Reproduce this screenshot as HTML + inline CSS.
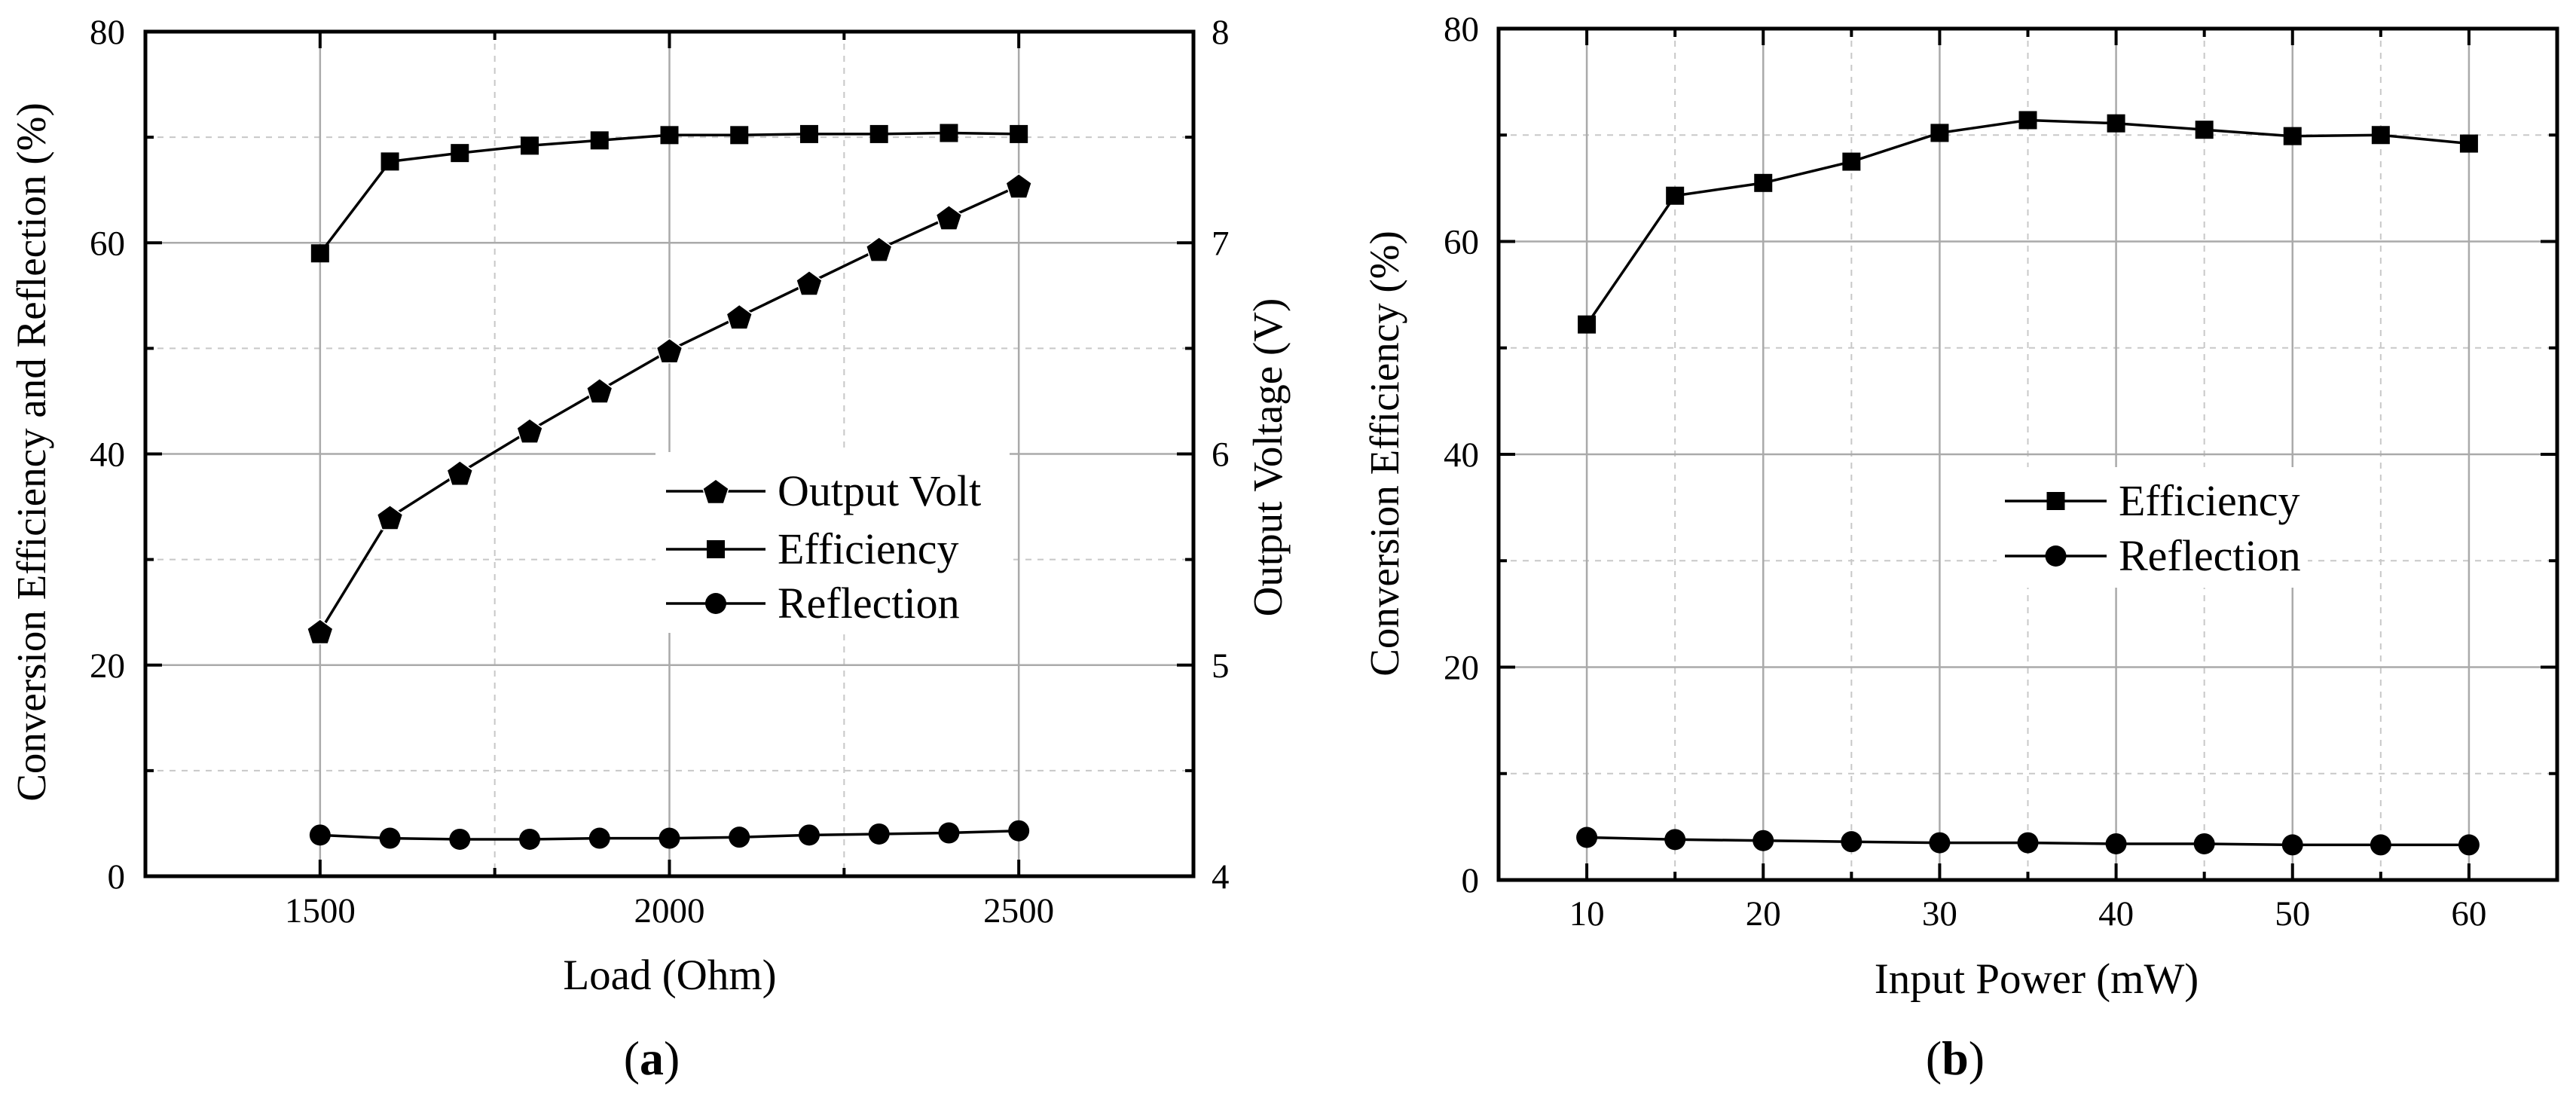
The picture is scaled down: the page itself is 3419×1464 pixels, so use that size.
<!DOCTYPE html>
<html><head><meta charset="utf-8">
<style>
html,body{margin:0;padding:0;background:#fff;}
svg{display:block;font-family:"Liberation Serif","Times New Roman",serif;}
</style></head>
<body>
<svg id="fig" width="3419" height="1464" viewBox="0 0 3419 1464" xmlns="http://www.w3.org/2000/svg">
<rect x="0" y="0" width="3419" height="1464" fill="#fff"/>
<g id="pa"></g>
<g id="pb"></g>
</svg>
<script>
// Panel (a) data
const loadA = [1500,1600,1700,1800,1900,2000,2100,2200,2300,2400,2500];
const voltA = [5.16,5.70,5.91,6.11,6.30,6.49,6.65,6.81,6.97,7.12,7.27];
const effA = [59.0,67.7,68.5,69.2,69.7,70.2,70.2,70.3,70.3,70.4,70.3];
const reflA = [3.9,3.6,3.5,3.5,3.6,3.6,3.7,3.9,4.0,4.1,4.3];
const xTicksA = [1500,2000,2500];
const yTicksA = [0,20,40,60,80];
const y2TicksA = [4,5,6,7,8];
// Panel (b) data
const powerB = [10,15,20,25,30,35,40,45,50,55,60];
const effB = [52.2,64.3,65.5,67.5,70.2,71.4,71.1,70.5,69.9,70.0,69.2];
const reflB = [4.0,3.8,3.7,3.6,3.5,3.5,3.4,3.4,3.3,3.3,3.3];
const xTicksB = [10,20,30,40,50,60];
const yTicksB = [0,20,40,60,80];

const NS='http://www.w3.org/2000/svg';
function mk(parent,tag,attrs,text){const e=document.createElementNS(NS,tag);for(const k in attrs)e.setAttribute(k,attrs[k]);if(text!==undefined)e.textContent=text;parent.appendChild(e);return e;}
function scale(d0,d1,r0,r1){return v=>r0+(v-d0)*(r1-r0)/(d1-d0);}

function grid(g,X,Y,xMaj,xMin,yMaj,yMin,L,R,T,B){
  xMin.forEach(v=>{const l=mk(g,'line',{x1:X(v),x2:X(v),y1:T,y2:B,stroke:'#c8c8c8','stroke-width':2,'stroke-dasharray':'8,8'});});
  yMin.forEach(v=>{const l=mk(g,'line',{x1:L,x2:R,y1:Y(v),y2:Y(v),stroke:'#c8c8c8','stroke-width':2,'stroke-dasharray':'8,8'});});
  xMaj.forEach(v=>{const l=mk(g,'line',{x1:X(v),x2:X(v),y1:T,y2:B,stroke:'#aaa','stroke-width':2.5});});
  yMaj.forEach(v=>{const l=mk(g,'line',{x1:L,x2:R,y1:Y(v),y2:Y(v),stroke:'#aaa','stroke-width':2.5});});
}
function frameTicks(g,X,Y,xMaj,xMin,yMaj,yMin,L,R,T,B,rightTicks){
  const tk=(x1,y1,x2,y2)=>{const l=mk(g,'line',{x1,y1,x2,y2,stroke:'#000','stroke-width':4});};
  xMaj.forEach(v=>{tk(X(v),B,X(v),B-22);tk(X(v),T,X(v),T+22);});
  xMin.forEach(v=>{tk(X(v),B,X(v),B-11);tk(X(v),T,X(v),T+11);});
  yMaj.forEach(v=>{tk(L,Y(v),L+22,Y(v));tk(R,Y(v),R-22,Y(v));});
  yMin.forEach(v=>{tk(L,Y(v),L+11,Y(v));tk(R,Y(v),R-11,Y(v));});
  const f=mk(g,'rect',{x:L,y:T,width:R-L,height:B-T,fill:'none',stroke:'#000','stroke-width':5});
  
}
function pentPts(cx,cy,r){let p=[];for(let i=0;i<5;i++){const a=-Math.PI/2+i*2*Math.PI/5;p.push((cx+r*Math.cos(a)).toFixed(1)+','+(cy+r*Math.sin(a)+2).toFixed(1));}return p.join(' ');}
function marker(g,type,cx,cy,name){
  let m;
  if(type==='sq') m=mk(g,'rect',{x:cx-12,y:cy-12,width:24,height:24,fill:'#000'});
  else if(type==='ci') m=mk(g,'ellipse',{cx,cy,rx:14,ry:14,fill:'#000'});
  else m=mk(g,'polygon',{points:pentPts(cx,cy,17),fill:'#000',stroke:'#fff','stroke-width':3,'paint-order':'stroke'});
  
  
}
function series(g,xs,ys,X,Y,type,name){
  const pts=xs.map((x,i)=>X(x).toFixed(1)+','+Y(ys[i]).toFixed(1)).join(' ');
  const pl=mk(g,'polyline',{points:pts,fill:'none',stroke:'#000','stroke-width':3.5});
  
  xs.forEach((x,i)=>marker(g,type,X(x),Y(ys[i]),name+'-point'));
}
function text(g,x,y,s,size,anchor,name,extra){
  const t=mk(g,'text',Object.assign({x,y,'font-size':size,'text-anchor':anchor||'middle',fill:'#000'},extra||{}),s);
  return t;
}
function legend(g,x,y,w,h,items){
  const box=mk(g,'rect',{x,y,width:w,height:h,fill:'#fff'});
  
  items.forEach(it=>{
    const l=mk(g,'line',{x1:it.x1,x2:it.x2,y1:it.y,y2:it.y,stroke:'#000','stroke-width':3.5});
    
    marker(g,it.type,(it.x1+it.x2)/2,it.y,'legend-marker');
    text(g,it.x2+16,it.y+19,it.label,58,'start','legend-entry');
  });
}

// ---------- Panel A ----------
(function(){
  const g=document.getElementById('pa');
  const L=193,R=1584,T=42,B=1163;
  const X=scale(1250,2750,L,R), Y=scale(0,80,B,T), Y2=scale(4,8,B,T);
  const xMin=[1250,1750,2250,2750], yMin=[10,30,50,70];
  grid(g,X,Y,xTicksA,[1750,2250],yTicksA.slice(1,4),yMin,L,R,T,B);
  legend(g,870,600,470,240,[
    {x1:884,x2:1016,y:652,type:'pe',label:'Output Volt'},
    {x1:884,x2:1016,y:729,type:'sq',label:'Efficiency'},
    {x1:884,x2:1016,y:801,type:'ci',label:'Reflection'}]);
  series(g,loadA,reflA,X,Y,'ci','reflection-a');
  series(g,loadA,effA,X,Y,'sq','efficiency-a');
  series(g,loadA,voltA,X,Y2,'pe','output-volt-a');
  frameTicks(g,X,Y,xTicksA,xMin,yTicksA,yMin,L,R,T,B);
  xTicksA.forEach(v=>text(g,X(v),1224,String(v),47,'middle','x-tick-label'));
  yTicksA.forEach(v=>text(g,166,Y(v)+16,String(v),47,'end','y-tick-label'));
  y2TicksA.forEach(v=>text(g,1608,Y2(v)+16,String(v),47,'start','y2-tick-label'));
  text(g,889,1313,'Load (Ohm)',57,'middle','x-axis-title');
  text(g,0,0,'Conversion Efficiency and Reflection (%)',55,'middle','y-axis-title',{transform:'translate(60,600) rotate(-90)'});
  text(g,0,0,'Output Voltage (V)',55,'middle','y2-axis-title',{transform:'translate(1701,607) rotate(-90)'});
  const cap=mk(g,'text',{x:865,y:1426,'font-size':64,'text-anchor':'middle'});
  
  cap.innerHTML='(<tspan font-weight="bold">a</tspan>)';
})();

// ---------- Panel B ----------
(function(){
  const g=document.getElementById('pb');
  const L=1989,R=3394,T=38,B=1168;
  const X=scale(5,65,L,R), Y=scale(0,80,B,T);
  const xMin=[15,25,35,45,55], yMin=[10,30,50,70];
  grid(g,X,Y,xTicksB,xMin,yTicksB.slice(1,4),yMin,L,R,T,B);
  legend(g,2650,620,413,160,[
    {x1:2661,x2:2796,y:665,type:'sq',label:'Efficiency'},
    {x1:2661,x2:2796,y:738,type:'ci',label:'Reflection'}]);
  series(g,powerB,reflB,X,Y,'ci','reflection-b');
  series(g,powerB,effB,X,Y,'sq','efficiency-b');
  frameTicks(g,X,Y,xTicksB,xMin,yTicksB,yMin,L,R,T,B);
  xTicksB.forEach(v=>text(g,X(v),1228,String(v),47,'middle','x-tick-label'));
  yTicksB.forEach(v=>text(g,1963,Y(v)+16,String(v),47,'end','y-tick-label'));
  text(g,2703,1318,'Input Power (mW)',57,'middle','x-axis-title');
  text(g,0,0,'Conversion Efficiency (%)',55,'middle','y-axis-title',{transform:'translate(1856,602) rotate(-90)'});
  const cap=mk(g,'text',{x:2595,y:1426,'font-size':64,'text-anchor':'middle'});
  
  cap.innerHTML='(<tspan font-weight="bold">b</tspan>)';
})();
</script>
</body></html>
